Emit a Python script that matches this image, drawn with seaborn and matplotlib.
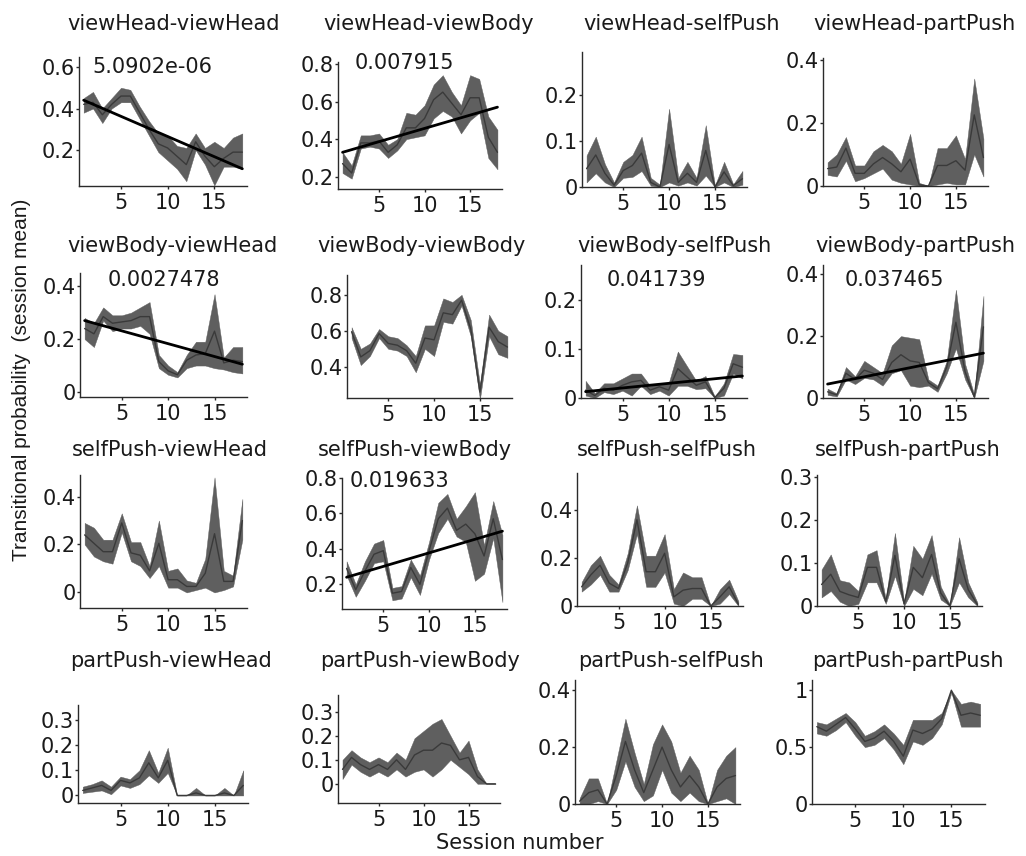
import matplotlib
matplotlib.use("Agg")
import matplotlib.pyplot as plt
import matplotlib.ticker as mticker
import seaborn as sns

# ---------------- data ----------------
sessions = list(range(1, 19))

titles = ["viewHead-viewHead", "viewHead-viewBody", "viewHead-selfPush", "viewHead-partPush",
          "viewBody-viewHead", "viewBody-viewBody", "viewBody-selfPush", "viewBody-partPush",
          "selfPush-viewHead", "selfPush-viewBody", "selfPush-selfPush", "selfPush-partPush",
          "partPush-viewHead", "partPush-viewBody", "partPush-selfPush", "partPush-partPush"]

# viewHead -> *
vhvh_mean = [0.42, 0.43, 0.37, 0.42, 0.46, 0.46, 0.38, 0.30, 0.23, 0.21, 0.17, 0.13, 0.24, 0.17, 0.12, 0.16, 0.19, 0.19]
vhvh_hi   = [0.45, 0.48, 0.40, 0.45, 0.50, 0.49, 0.41, 0.34, 0.28, 0.27, 0.22, 0.21, 0.28, 0.21, 0.24, 0.21, 0.26, 0.28]
vhvh_lo   = [0.38, 0.40, 0.33, 0.40, 0.43, 0.43, 0.35, 0.27, 0.19, 0.15, 0.11, 0.05, 0.20, 0.13, 0.03, 0.12, 0.12, 0.11]

vhvb_mean = [0.27, 0.22, 0.38, 0.38, 0.39, 0.33, 0.37, 0.46, 0.46, 0.51, 0.61, 0.65, 0.59, 0.53, 0.62, 0.62, 0.41, 0.33]
vhvb_hi   = [0.33, 0.26, 0.42, 0.42, 0.43, 0.37, 0.40, 0.54, 0.53, 0.58, 0.69, 0.74, 0.65, 0.58, 0.74, 0.72, 0.52, 0.45]
vhvb_lo   = [0.22, 0.19, 0.35, 0.36, 0.35, 0.30, 0.34, 0.40, 0.41, 0.42, 0.51, 0.55, 0.52, 0.43, 0.50, 0.54, 0.30, 0.24]

vhsp_mean = [0.040, 0.070, 0.030, 0.004, 0.036, 0.047, 0.074, 0.010, 0.000, 0.093, 0.010, 0.030, 0.010, 0.080, 0.000, 0.033, 0.003, 0.018]
vhsp_hi   = [0.069, 0.110, 0.050, 0.010, 0.055, 0.070, 0.110, 0.020, 0.005, 0.171, 0.020, 0.055, 0.020, 0.135, 0.003, 0.055, 0.006, 0.035]
vhsp_lo   = [0.010, 0.030, 0.010, 0.000, 0.020, 0.022, 0.035, 0.003, 0.000, 0.010, 0.003, 0.010, 0.003, 0.025, 0.000, 0.010, 0.000, 0.005]

vhpp_mean = [0.055, 0.060, 0.120, 0.040, 0.040, 0.070, 0.090, 0.070, 0.045, 0.085, 0.004, 0.000, 0.065, 0.065, 0.080, 0.050, 0.225, 0.090]
vhpp_hi   = [0.075, 0.100, 0.155, 0.065, 0.065, 0.110, 0.130, 0.110, 0.070, 0.165, 0.010, 0.000, 0.120, 0.120, 0.160, 0.085, 0.340, 0.150]
vhpp_lo   = [0.035, 0.030, 0.080, 0.015, 0.025, 0.040, 0.055, 0.020, 0.010, 0.005, 0.000, 0.000, 0.005, 0.010, 0.005, 0.005, 0.100, 0.030]

# viewBody -> *
vbvh_mean = [0.24, 0.22, 0.285, 0.26, 0.265, 0.27, 0.285, 0.285, 0.115, 0.08, 0.065, 0.12, 0.14, 0.145, 0.23, 0.11, 0.12, 0.115]
vbvh_hi   = [0.28, 0.26, 0.32, 0.29, 0.29, 0.30, 0.32, 0.34, 0.14, 0.10, 0.075, 0.14, 0.19, 0.19, 0.37, 0.13, 0.17, 0.17]
vbvh_lo   = [0.20, 0.17, 0.27, 0.23, 0.24, 0.24, 0.25, 0.22, 0.09, 0.065, 0.055, 0.09, 0.10, 0.10, 0.09, 0.085, 0.075, 0.07]

vbvb_mean = [0.595, 0.455, 0.49, 0.585, 0.53, 0.52, 0.49, 0.42, 0.56, 0.55, 0.70, 0.69, 0.77, 0.61, 0.26, 0.62, 0.54, 0.51]
vbvb_hi   = [0.62, 0.50, 0.53, 0.61, 0.57, 0.56, 0.52, 0.46, 0.63, 0.63, 0.78, 0.76, 0.80, 0.66, 0.30, 0.69, 0.60, 0.57]
vbvb_lo   = [0.56, 0.41, 0.46, 0.56, 0.50, 0.49, 0.46, 0.37, 0.50, 0.46, 0.65, 0.64, 0.74, 0.57, 0.22, 0.57, 0.47, 0.45]

vbsp_mean = [0.016, 0.005, 0.020, 0.016, 0.026, 0.033, 0.036, 0.016, 0.023, 0.016, 0.060, 0.043, 0.026, 0.033, 0.001, 0.020, 0.070, 0.063]
vbsp_hi   = [0.035, 0.010, 0.030, 0.030, 0.040, 0.050, 0.050, 0.025, 0.030, 0.030, 0.095, 0.065, 0.035, 0.045, 0.003, 0.030, 0.090, 0.088]
vbsp_lo   = [0.005, 0.000, 0.012, 0.008, 0.015, 0.005, 0.025, 0.008, 0.015, 0.005, 0.025, 0.025, 0.018, 0.020, 0.000, 0.005, 0.050, 0.040]

vbpp_mean = [0.020, 0.010, 0.080, 0.060, 0.090, 0.080, 0.060, 0.115, 0.140, 0.120, 0.115, 0.050, 0.030, 0.100, 0.245, 0.085, 0.003, 0.230]
vbpp_hi   = [0.030, 0.015, 0.100, 0.070, 0.120, 0.100, 0.080, 0.170, 0.200, 0.195, 0.190, 0.060, 0.040, 0.120, 0.350, 0.110, 0.010, 0.330]
vbpp_lo   = [0.010, 0.005, 0.060, 0.045, 0.065, 0.060, 0.040, 0.080, 0.090, 0.040, 0.035, 0.040, 0.020, 0.080, 0.160, 0.060, 0.000, 0.120]

# selfPush -> *
spvh_mean = [0.24, 0.205, 0.17, 0.17, 0.29, 0.165, 0.155, 0.09, 0.205, 0.053, 0.053, 0.025, 0.025, 0.08, 0.245, 0.046, 0.046, 0.30]
spvh_hi   = [0.29, 0.27, 0.22, 0.22, 0.33, 0.21, 0.21, 0.11, 0.30, 0.09, 0.10, 0.05, 0.04, 0.14, 0.48, 0.09, 0.07, 0.39]
spvh_lo   = [0.20, 0.15, 0.13, 0.12, 0.25, 0.13, 0.11, 0.06, 0.11, 0.02, 0.02, 0.00, 0.01, 0.02, 0.00, 0.01, 0.025, 0.22]

spvb_mean = [0.29, 0.17, 0.275, 0.37, 0.39, 0.15, 0.16, 0.295, 0.20, 0.39, 0.57, 0.63, 0.505, 0.54, 0.485, 0.36, 0.57, 0.34]
spvb_hi   = [0.33, 0.20, 0.33, 0.43, 0.45, 0.18, 0.19, 0.34, 0.25, 0.44, 0.66, 0.71, 0.57, 0.64, 0.72, 0.42, 0.67, 0.48]
spvb_lo   = [0.25, 0.13, 0.22, 0.32, 0.33, 0.11, 0.12, 0.24, 0.14, 0.34, 0.49, 0.57, 0.47, 0.44, 0.22, 0.26, 0.46, 0.10]

spsp_mean = [0.080, 0.130, 0.170, 0.095, 0.073, 0.180, 0.360, 0.143, 0.143, 0.220, 0.038, 0.066, 0.073, 0.073, 0.000, 0.038, 0.080, 0.007]
spsp_hi   = [0.100, 0.170, 0.210, 0.130, 0.090, 0.220, 0.420, 0.210, 0.210, 0.300, 0.070, 0.140, 0.120, 0.120, 0.000, 0.070, 0.110, 0.020]
spsp_lo   = [0.060, 0.090, 0.130, 0.060, 0.060, 0.150, 0.300, 0.080, 0.080, 0.140, 0.010, 0.000, 0.030, 0.030, 0.000, 0.010, 0.050, 0.000]

sppp_mean = [0.050, 0.074, 0.034, 0.026, 0.020, 0.090, 0.090, 0.010, 0.118, 0.005, 0.090, 0.066, 0.120, 0.030, 0.000, 0.110, 0.038, 0.003]
sppp_hi   = [0.085, 0.120, 0.060, 0.055, 0.035, 0.120, 0.130, 0.015, 0.170, 0.010, 0.140, 0.110, 0.165, 0.045, 0.003, 0.160, 0.055, 0.008]
sppp_lo   = [0.020, 0.035, 0.010, 0.000, 0.005, 0.055, 0.055, 0.005, 0.070, 0.000, 0.040, 0.025, 0.075, 0.015, 0.000, 0.055, 0.020, 0.000]

# partPush -> *
ppvh_mean = [0.020, 0.030, 0.040, 0.020, 0.060, 0.050, 0.070, 0.130, 0.070, 0.140, 0.000, 0.000, 0.010, 0.000, 0.000, 0.010, 0.000, 0.040]
ppvh_hi   = [0.035, 0.045, 0.060, 0.035, 0.075, 0.065, 0.100, 0.180, 0.090, 0.190, 0.000, 0.000, 0.030, 0.000, 0.000, 0.030, 0.000, 0.100]
ppvh_lo   = [0.010, 0.015, 0.020, 0.005, 0.040, 0.030, 0.045, 0.080, 0.050, 0.090, 0.000, 0.000, 0.000, 0.000, 0.000, 0.000, 0.000, 0.000]

ppvb_mean = [0.06, 0.11, 0.08, 0.06, 0.08, 0.06, 0.10, 0.06, 0.12, 0.14, 0.14, 0.17, 0.16, 0.10, 0.11, 0.03, 0.00, 0.00]
ppvb_hi   = [0.10, 0.14, 0.11, 0.09, 0.11, 0.09, 0.13, 0.10, 0.19, 0.22, 0.25, 0.27, 0.20, 0.13, 0.18, 0.06, 0.00, 0.00]
ppvb_lo   = [0.02, 0.08, 0.05, 0.03, 0.05, 0.03, 0.06, 0.03, 0.05, 0.06, 0.03, 0.06, 0.10, 0.07, 0.04, 0.00, 0.00, 0.00]

ppsp_mean = [0.01, 0.04, 0.05, 0.00, 0.10, 0.22, 0.12, 0.04, 0.12, 0.20, 0.12, 0.06, 0.10, 0.06, 0.00, 0.06, 0.09, 0.10]
ppsp_hi   = [0.02, 0.09, 0.09, 0.00, 0.15, 0.30, 0.18, 0.07, 0.21, 0.28, 0.22, 0.11, 0.17, 0.12, 0.00, 0.12, 0.17, 0.20]
ppsp_lo   = [0.00, 0.00, 0.01, 0.00, 0.05, 0.15, 0.06, 0.01, 0.03, 0.12, 0.04, 0.01, 0.04, 0.01, 0.00, 0.01, 0.02, 0.00]

pppp_mean = [0.68, 0.64, 0.70, 0.76, 0.66, 0.55, 0.58, 0.64, 0.55, 0.42, 0.65, 0.62, 0.66, 0.75, 1.00, 0.78, 0.80, 0.78]
pppp_hi   = [0.72, 0.70, 0.75, 0.80, 0.72, 0.60, 0.64, 0.70, 0.62, 0.52, 0.74, 0.74, 0.74, 0.80, 1.00, 0.88, 0.90, 0.88]
pppp_lo   = [0.62, 0.60, 0.65, 0.72, 0.60, 0.50, 0.52, 0.58, 0.48, 0.35, 0.55, 0.52, 0.58, 0.70, 0.98, 0.68, 0.68, 0.68]

# regression fit lines (value at session 1 and session 18) and p-values
fit_lines = {0: (0.44, 0.11), 1: (0.33, 0.57), 4: (0.27, 0.105),
             6: (0.013, 0.045), 7: (0.045, 0.145), 9: (0.24, 0.50)}
p_labels = {0: "5.0902e-06", 1: "0.007915", 4: "0.0027478",
            6: "0.041739", 7: "0.037465", 9: "0.019633"}

y_ticks = [[0.2, 0.4, 0.6], [0.2, 0.4, 0.6, 0.8], [0, 0.1, 0.2], [0, 0.2, 0.4],
           [0, 0.2, 0.4], [0.4, 0.6, 0.8], [0, 0.1, 0.2], [0, 0.2, 0.4],
           [0, 0.2, 0.4], [0.2, 0.4, 0.6, 0.8], [0, 0.2, 0.4], [0, 0.1, 0.2, 0.3],
           [0, 0.1, 0.2, 0.3], [0, 0.1, 0.2, 0.3], [0, 0.2, 0.4], [0, 0.5, 1]]
x_ticks = [5, 10, 15]

means = [vhvh_mean, vhvb_mean, vhsp_mean, vhpp_mean, vbvh_mean, vbvb_mean, vbsp_mean, vbpp_mean,
         spvh_mean, spvb_mean, spsp_mean, sppp_mean, ppvh_mean, ppvb_mean, ppsp_mean, pppp_mean]
his = [vhvh_hi, vhvb_hi, vhsp_hi, vhpp_hi, vbvh_hi, vbvb_hi, vbsp_hi, vbpp_hi,
       spvh_hi, spvb_hi, spsp_hi, sppp_hi, ppvh_hi, ppvb_hi, ppsp_hi, pppp_hi]
los = [vhvh_lo, vhvb_lo, vhsp_lo, vhpp_lo, vbvh_lo, vbvb_lo, vbsp_lo, vbpp_lo,
       spvh_lo, spvb_lo, spsp_lo, sppp_lo, ppvh_lo, ppvb_lo, ppsp_lo, pppp_lo]

# ---------------- layout (pixels) ----------------
W, H = 1026, 856
# left, right, top, bottom of each axes box
rects = [(79, 247, 57, 186), (338, 502, 62, 189), (582, 747, 52, 187), (823, 988, 58, 186),
         (80, 247, 273, 397), (347, 512, 275, 398), (581, 747, 265, 398), (823, 988, 265, 398),
         (80, 247, 475, 608), (342, 507, 478, 609), (577, 743, 473, 606), (817, 982, 475, 606),
         (78, 248, 705, 803), (338, 500, 695, 803), (575, 740, 680, 804), (812, 985, 680, 804)]
ylims = [(0.027, 0.648), (0.135, 0.81), (0, 0.295), (0, 0.405),
         (-0.019, 0.45), (0.227, 0.91), (0, 0.272), (0, 0.43),
         (-0.065, 0.49), (0.061, 0.80), (0, 0.555), (0, 0.305),
         (-0.03, 0.36), (-0.08, 0.37), (0, 0.436), (0, 1.09)]
# title left edge and baseline (pixels)
title_x = [67, 323, 583, 813, 67, 317, 577, 815, 72, 318, 577, 815, 70, 320, 578, 812]
title_base = [30, 30, 30, 30, 252, 252, 252, 252, 456, 456, 456, 456, 667, 667, 667, 667]
p_pos = {0: (92, 67), 1: (355, 63), 4: (108, 280), 6: (607, 280), 7: (845, 280), 9: (350, 481)}

band_color = "#5f5f5f"
line_color = "#3a3a3a"
text_color = "#1a1a1a"

sns.set_style("ticks")
plt.rcParams["font.family"] = ["DejaVu Sans"]
plt.rcParams["axes.linewidth"] = 1.0

fig = plt.figure(figsize=(W / 100, H / 100), dpi=100)

for i in range(16):
    l, r, t, b = rects[i]
    ax = fig.add_axes([l / W, 1 - b / H, (r - l) / W, (b - t) / H])
    ax.fill_between(sessions, los[i], his[i], color=band_color, lw=0.3, edgecolor=band_color)
    sns.lineplot(x=sessions, y=means[i], ax=ax, color=line_color, lw=1.0)
    if i in fit_lines:
        f0, f1 = fit_lines[i]
        sns.lineplot(x=[1, 18], y=[f0, f1], ax=ax, color="black", lw=2.0)
    ax.set_xlim(0.5, 18.5)
    ax.set_ylim(*ylims[i])
    ax.set_xticks(x_ticks)
    ax.set_yticks(y_ticks[i])
    ax.yaxis.set_major_formatter(mticker.FormatStrFormatter("%g"))
    ax.set_xlabel("")
    ax.set_ylabel("")
    sns.despine(ax=ax)
    for s in ("left", "bottom"):
        ax.spines[s].set_color("#2a2a2a")
    ax.tick_params(axis="both", length=2, width=1, labelsize=15, colors="#2a2a2a",
                   labelcolor=text_color)
    ax.tick_params(axis="y", pad=1)
    ax.tick_params(axis="x", pad=3)
    fig.text(title_x[i] / W, 1 - title_base[i] / H, titles[i], ha="left", va="baseline",
             fontsize=15, color=text_color)
    if i in p_labels:
        px, py = p_pos[i]
        fig.text(px / W, 1 - py / H, p_labels[i], ha="left", va="center",
                 fontsize=15, color=text_color)

fig.text(22 / W, 1 - 380 / H, "Transitional probability  (session mean)", rotation=90,
         ha="center", va="center", fontsize=15, color=text_color,
         family=["Liberation Sans", "DejaVu Sans"])
fig.text(520 / W, 1 - 843 / H, "Session number", ha="center", va="center",
         fontsize=15, color=text_color)

fig.savefig("out.png", dpi=100)
